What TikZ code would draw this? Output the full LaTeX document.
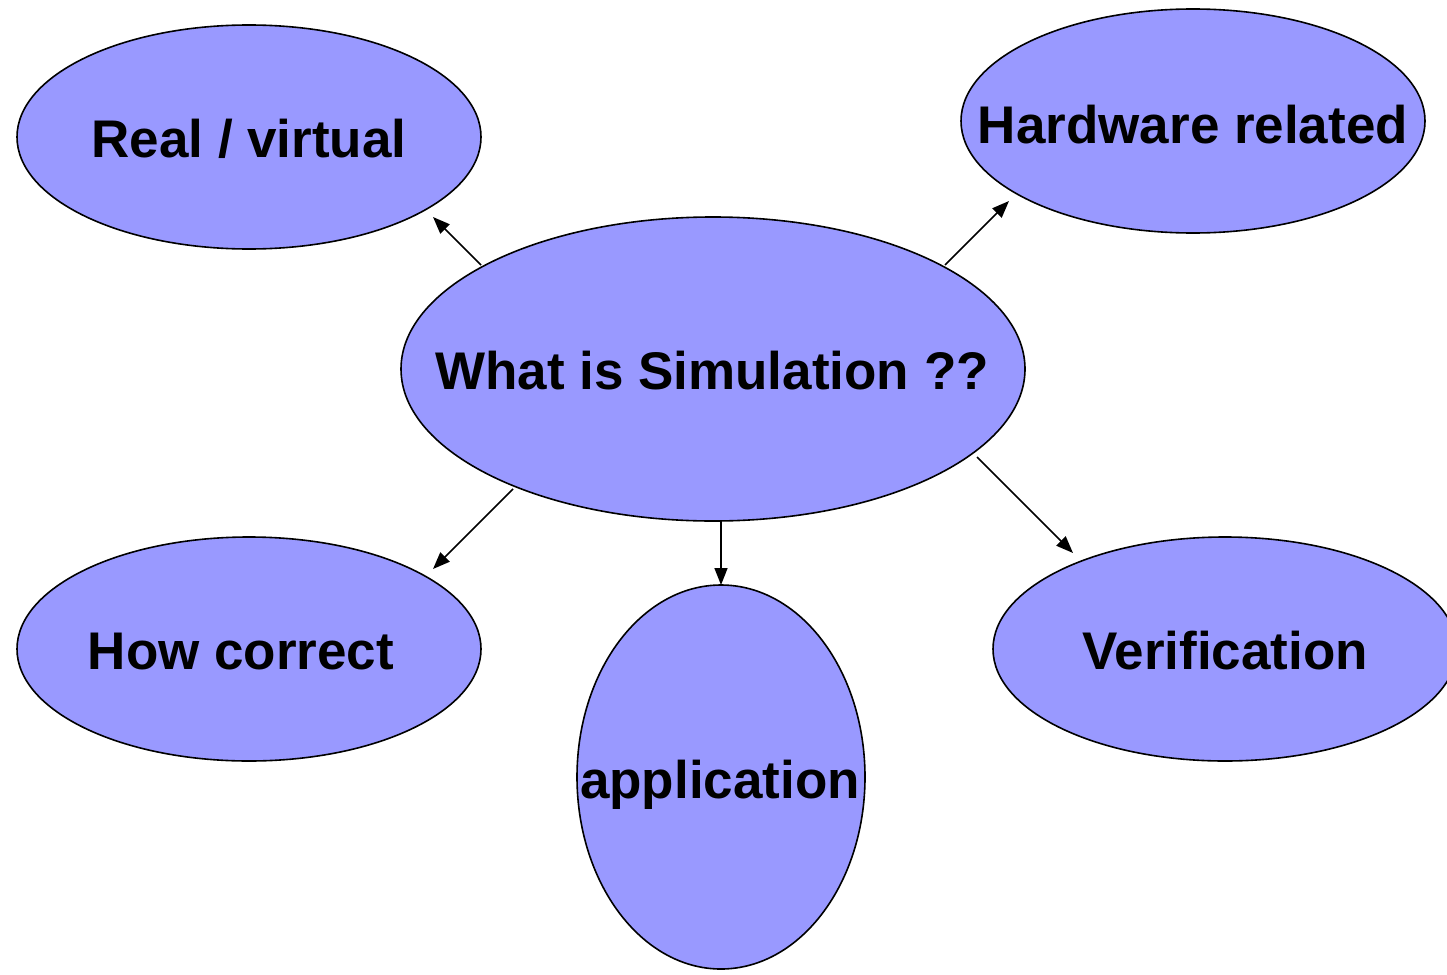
\documentclass[tikz,border=0pt]{standalone}
\usepackage{fontspec}
\setmainfont{Liberation Sans}
\usetikzlibrary{shapes.geometric,arrows.meta}
\definecolor{bubble}{HTML}{9999FF}
\tikzset{
  blob/.style={ellipse, draw=black, line width=1.6pt, fill=bubble, inner sep=0pt},
  lbl/.style={anchor=base, inner sep=0pt, font=\fontsize{53}{60}\selectfont\bfseries},
  link/.style={line width=1.6pt, -{Triangle[length=17pt,width=13pt]}}
}
\begin{document}
\begin{tikzpicture}[x=1pt,y=-1pt]
  \useasboundingbox (0,0) rectangle (1447,974);
  % bubbles
  \node[blob, minimum width=464pt, minimum height=224pt] (rv) at (249,137) {};
  \node[blob, minimum width=464pt, minimum height=224pt] (hw) at (1193,121) {};
  \node[blob, minimum width=624pt, minimum height=304pt] (sim) at (713,369) {};
  \node[blob, minimum width=464pt, minimum height=224pt] (hc) at (249,649) {};
  \node[blob, minimum width=288pt, minimum height=384pt] (app) at (721,777) {};
  \node[blob, minimum width=464pt, minimum height=224pt] (ver) at (1225,649) {};
  % labels
  \node[lbl] (rvt) at (249,157) {Real / virtual};
  \node[lbl] (hwt) at (1193,143) {Hardware related};
  \node[lbl] (simt) at (712,389) {What is Simulation ??};
  \node[lbl] (hct) at (241,669) {How correct};
  \node[lbl] (appt) at (720,798) {application};
  \node[lbl] (vert) at (1225,669) {Verification};
  % arrow ends
  \coordinate (s1) at (481,265); \coordinate (e1) at (433,217);
  \coordinate (s2) at (945,265); \coordinate (e2) at (1009,201);
  \coordinate (s3) at (513,489); \coordinate (e3) at (433,569);
  \coordinate (s4) at (721,521); \coordinate (e4) at (721,585);
  \coordinate (s5) at (977,457); \coordinate (e5) at (1073,553);
  \draw[link] (s1) -- (e1);
  \draw[link] (s2) -- (e2);
  \draw[link] (s3) -- (e3);
  \draw[link] (s4) -- (e4);
  \draw[link] (s5) -- (e5);
\end{tikzpicture}
\end{document}
